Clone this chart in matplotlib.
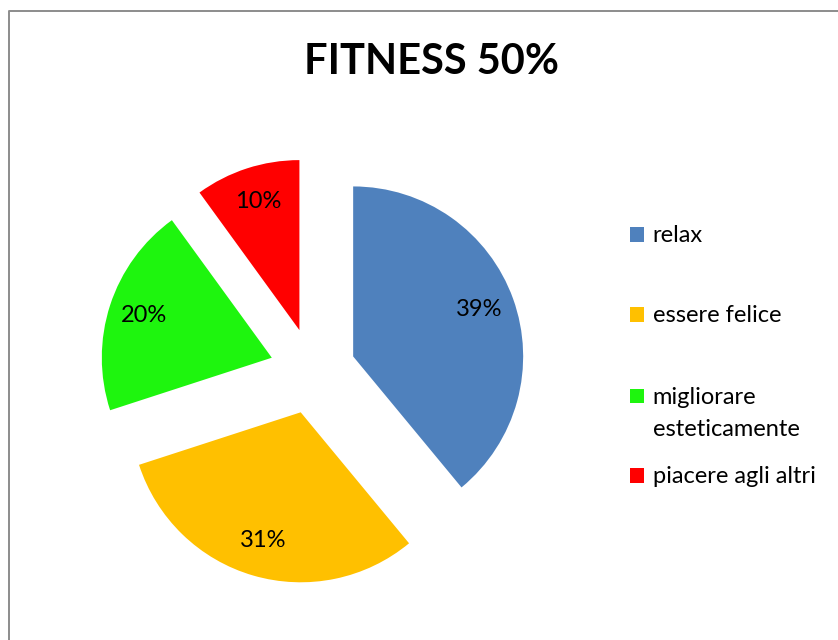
import matplotlib
matplotlib.use("Agg")
import matplotlib.pyplot as plt
from matplotlib.patches import Rectangle
from matplotlib.lines import Line2D

# Survey answers: why people go to the gym
title = "FITNESS 50%"
categories = ["relax", "essere felice", "migliorare\nesteticamente", "piacere agli altri"]
values = [39, 31, 20, 10]
colors = ["#4F81BD", "#FFC000", "#1EF50E", "#FF0000"]

W, H = 838, 640
fig = plt.figure(figsize=(W / 100, H / 100), dpi=100)
ax = fig.add_axes([0, 0, 1, 1])

FONT = "Lato"

# Pie in pixel-like data units (y grows upward)
cx, cy, r = 312.7, H - 371, 170
wedges, _, pcts = ax.pie(
    values,
    colors=colors,
    startangle=90,
    counterclock=False,
    center=(cx, cy),
    radius=r,
    explode=[43] * len(values),
    autopct="%1.0f%%",
    pctdistance=0.79,
    wedgeprops=dict(linewidth=0),
    textprops=dict(fontsize=17, family=FONT, color="black"),
)
for t in pcts:
    x, y = t.get_position()
    t.set_position((x, y + 1))

ax.set_xlim(0, W)
ax.set_ylim(0, H)
ax.set_aspect("auto")
ax.axis("off")

# Title
ax.text(431, H - 74, title, ha="center", va="baseline",
        fontsize=30, fontweight="bold", family=FONT, color="black")

# Legend, drawn entry by entry
legend_centers = [234.5, 314.5, 396, 475.5]
for label, color, yc in zip(categories, colors, legend_centers):
    ax.add_patch(Rectangle((630, H - yc - 7.2), 14.4, 14.4,
                           facecolor=color, edgecolor="none"))
    lines = label.split("\n")
    for i, line in enumerate(lines):
        ax.text(652.5, H - (yc + 7.5 + 32 * i), line, ha="left", va="baseline",
                fontsize=17, family=FONT, color="black")

# Chart area border (left and top edges visible)
ax.add_line(Line2D([8.5, 8.5, W], [0, H - 11, H - 11],
                   color="#8C8C8C", linewidth=1.4))

fig.savefig("out.png", dpi=100)
